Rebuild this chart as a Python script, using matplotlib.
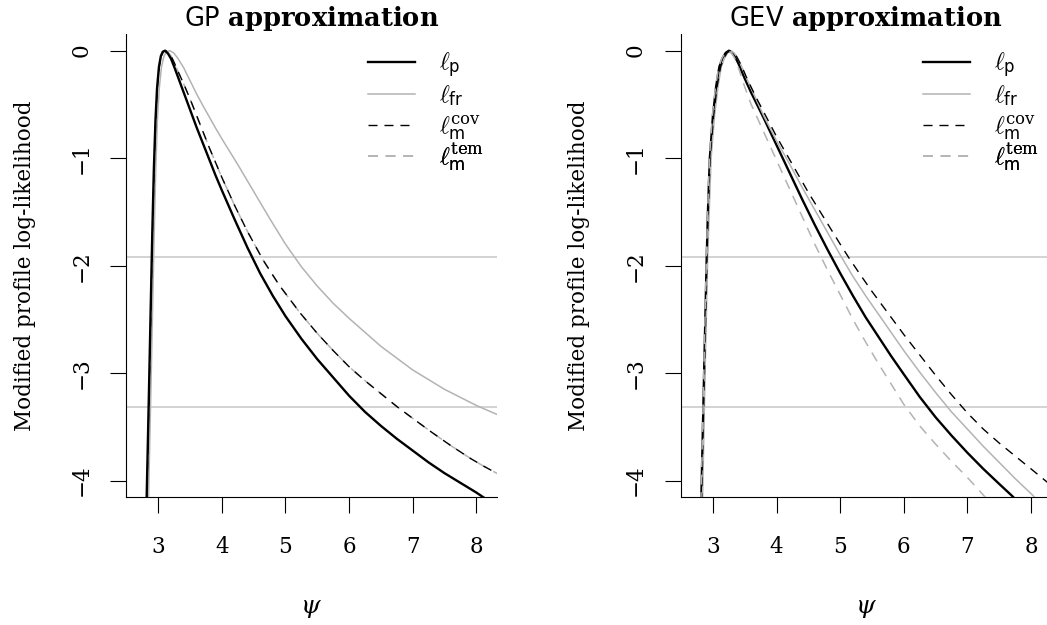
import numpy as np
import matplotlib
matplotlib.use("Agg")
import matplotlib.pyplot as plt
from matplotlib.lines import Line2D

plt.rcParams['font.family'] = ['DejaVu Serif']
plt.rcParams['mathtext.fontset'] = 'custom'
plt.rcParams['mathtext.rm'] = 'DejaVu Serif'
plt.rcParams['mathtext.it'] = 'DejaVu Serif:italic'
plt.rcParams['mathtext.bf'] = 'DejaVu Serif:bold'
plt.rcParams['mathtext.sf'] = 'DejaVu Sans'

# ---------------- data ----------------
conf_levels = [-1.9207, -3.3174]

# GP approximation panel
gp_p_psi = [2.815, 2.85, 2.88, 2.905, 2.93, 2.955, 2.98, 3.01, 3.04, 3.07, 3.105, 3.15, 3.2, 3.25,
            3.3, 3.4, 3.5, 3.6, 3.7, 3.8, 3.9, 4.0, 4.2, 4.4, 4.6, 4.8, 5.0, 5.25, 5.5, 5.75,
            6.0, 6.25, 6.5, 6.75, 7.0, 7.25, 7.5, 7.75, 8.0, 8.15]
gp_p_ll = [-4.2, -3.25, -2.4, -1.7, -1.1, -0.65, -0.35, -0.15, -0.05, -0.01, 0.0, -0.025, -0.075, -0.15,
           -0.23, -0.39, -0.55, -0.71, -0.86, -1.01, -1.16, -1.30, -1.57, -1.83, -2.07, -2.28, -2.47,
           -2.68, -2.87, -3.04, -3.21, -3.36, -3.49, -3.61, -3.72, -3.83, -3.93, -4.02, -4.11, -4.17]

gp_fr_psi = [2.845, 2.88, 2.91, 2.935, 2.96, 2.985, 3.015, 3.05, 3.09, 3.13, 3.18, 3.24, 3.3,
             3.4, 3.5, 3.6, 3.7, 3.8, 3.9, 4.0, 4.25, 4.5, 4.75, 5.0, 5.25, 5.5, 5.75, 6.0,
             6.5, 7.0, 7.5, 8.0, 8.35]
gp_fr_ll = [-4.2, -3.25, -2.4, -1.7, -1.1, -0.65, -0.35, -0.15, -0.05, -0.01, 0.0, -0.02, -0.065,
            -0.16, -0.28, -0.40, -0.51, -0.615, -0.72, -0.82, -1.06, -1.31, -1.56, -1.80, -2.01, -2.19,
            -2.35, -2.49, -2.75, -2.97, -3.15, -3.30, -3.39]

gp_cov_psi = [2.82, 2.855, 2.885, 2.91, 2.935, 2.96, 2.985, 3.015, 3.045, 3.08, 3.12, 3.16, 3.2, 3.25,
              3.3, 3.4, 3.5, 3.6, 3.7, 3.8, 3.9, 4.0, 4.2, 4.4, 4.65, 4.9, 5.23, 5.5, 5.75, 6.0,
              6.25, 6.5, 6.75, 7.0, 7.3, 7.59, 7.9, 8.1, 8.35]
gp_cov_ll = [-4.2, -3.25, -2.4, -1.7, -1.1, -0.65, -0.35, -0.15, -0.05, -0.01, 0.0, -0.02, -0.05, -0.11,
             -0.18, -0.31, -0.45, -0.60, -0.75, -0.90, -1.04, -1.18, -1.44, -1.68, -1.95, -2.18, -2.44,
             -2.63, -2.79, -2.94, -3.07, -3.19, -3.31, -3.42, -3.55, -3.67, -3.79, -3.86, -3.94]

gp_tem_psi = gp_cov_psi
gp_tem_ll = gp_cov_ll

# GEV approximation panel
gev_p_psi = [2.815, 2.86, 2.90, 2.92, 2.95, 3.0, 3.05, 3.1, 3.15, 3.2, 3.25, 3.3, 3.35, 3.4, 3.45,
             3.5, 3.6, 3.8, 4.0, 4.2, 4.4, 4.6, 4.8, 5.0, 5.2, 5.4, 5.6, 5.8, 6.0, 6.25, 6.5,
             6.75, 7.0, 7.25, 7.5, 7.7, 7.8]
gev_p_ll = [-4.2, -3.0, -1.95, -1.5, -1.0, -0.6, -0.33, -0.15, -0.07, -0.02, 0.0, -0.02, -0.06, -0.12,
            -0.19, -0.26, -0.39, -0.63, -0.88, -1.13, -1.38, -1.62, -1.85, -2.07, -2.28, -2.48, -2.66,
            -2.84, -3.01, -3.22, -3.41, -3.58, -3.74, -3.89, -4.03, -4.14, -4.2]

gev_fr_psi = [2.835, 2.875, 2.915, 2.94, 2.97, 3.025, 3.08, 3.13, 3.18, 3.23, 3.28, 3.33, 3.38, 3.43,
              3.48, 3.53, 3.63, 3.8, 4.0, 4.2, 4.4, 4.6, 4.8, 5.0, 5.2, 5.4, 5.6, 5.8, 6.0, 6.25,
              6.5, 6.75, 7.0, 7.25, 7.5, 7.75, 8.0, 8.1]
gev_fr_ll = [-4.2, -3.0, -1.95, -1.5, -1.0, -0.6, -0.33, -0.15, -0.07, -0.02, 0.0, -0.02, -0.06, -0.12,
             -0.19, -0.26, -0.39, -0.61, -0.84, -1.05, -1.27, -1.48, -1.69, -1.90, -2.10, -2.28, -2.45,
             -2.62, -2.79, -2.99, -3.18, -3.36, -3.52, -3.68, -3.83, -3.98, -4.12, -4.18]

gev_cov_psi = [2.82, 2.865, 2.905, 2.925, 2.955, 3.01, 3.065, 3.12, 3.17, 3.22, 3.27, 3.32, 3.37, 3.42,
               3.47, 3.52, 3.6, 3.7, 3.85, 4.0, 4.25, 4.5, 4.75, 5.0, 5.14, 5.3, 5.5, 5.75, 6.0,
               6.25, 6.5, 6.75, 7.0, 7.25, 7.5, 7.75, 8.0, 8.35]
gev_cov_ll = [-4.2, -3.0, -1.95, -1.5, -1.0, -0.6, -0.33, -0.15, -0.07, -0.02, 0.0, -0.02, -0.055, -0.11,
              -0.17, -0.24, -0.34, -0.46, -0.63, -0.80, -1.06, -1.32, -1.56, -1.80, -1.93, -2.07, -2.24,
              -2.44, -2.64, -2.83, -3.02, -3.20, -3.37, -3.52, -3.65, -3.77, -3.89, -4.06]

gev_tem_psi = [2.81, 2.855, 2.895, 2.915, 2.945, 2.99, 3.04, 3.09, 3.14, 3.19, 3.24, 3.29, 3.34, 3.39,
               3.44, 3.5, 3.6, 3.8, 4.0, 4.2, 4.4, 4.6, 4.8, 5.0, 5.2, 5.4, 5.6, 5.8, 6.0, 6.25,
               6.5, 6.75, 7.0, 7.2, 7.35]
gev_tem_ll = [-4.2, -3.0, -1.95, -1.5, -1.0, -0.6, -0.33, -0.15, -0.07, -0.02, 0.0, -0.02, -0.07, -0.14,
              -0.23, -0.34, -0.50, -0.76, -1.02, -1.28, -1.54, -1.80, -2.04, -2.27, -2.50, -2.71, -2.91,
              -3.10, -3.29, -3.49, -3.66, -3.82, -3.97, -4.10, -4.2]

x_ticks = [3, 4, 5, 6, 7, 8]
y_ticks = [0, -1, -2, -3, -4]
xlim = (2.492, 8.321)
ylim = (-4.149, 0.155)

titles = [r'$\mathsf{GP}$ $\mathbf{approximation}$', r'$\mathsf{GEV}$ $\mathbf{approximation}$']
labels = [r'$\ell_{\mathsf{p}}$', r'$\ell_{\mathsf{fr}}$',
          r'$\ell_{\mathsf{m}}^{\mathrm{cov}}$', r'$\ell_{\mathsf{m}}^{\mathrm{tem}}$']
ylabel = 'Modified profile log-likelihood'
xlabel = r'$\psi$'

panels = [
    (gp_p_psi, gp_p_ll, gp_fr_psi, gp_fr_ll, gp_cov_psi, gp_cov_ll, gp_tem_psi, gp_tem_ll),
    (gev_p_psi, gev_p_ll, gev_fr_psi, gev_fr_ll, gev_cov_psi, gev_cov_ll, gev_tem_psi, gev_tem_ll),
]

# ---------------- styles ----------------
W, H = 1047, 625
fig = plt.figure(figsize=(W / 100, H / 100), dpi=100)

GRAY = '#b3b3b3'
HGRAY = '#c8c8c8'
styles = [
    dict(color='black', lw=1.7, ls='-'),
    dict(color=GRAY, lw=1.1, ls='-'),
    dict(color='black', lw=1.0, ls=(0, (6.5, 5))),
    dict(color=GRAY, lw=1.1, ls=(0, (6.5, 5))),
]

ax_top_px, ax_bot_px = 34, 496.7
ax_w = (496.7 - 126) / W
ax_h = (ax_bot_px - ax_top_px) / H
ax_bottom = (H - ax_bot_px) / H
lefts = [126 / W, 680.7 / W]

# legend rows (pixel rows of the handles, converted to axes fraction)
row_px = [65.5, 95.5, 127.5, 157.5]
row_frac = [1 - (p - ax_top_px) / (ax_bot_px - ax_top_px) for p in row_px]

for i, data in enumerate(panels):
    ax = fig.add_axes([lefts[i], ax_bottom, ax_w, ax_h])
    for y in conf_levels:
        ax.axhline(y, color=HGRAY, lw=1.1, zorder=1)
    order = [3, 2, 1, 0] if i == 0 else [0, 1, 2, 3]
    for z, k in enumerate(order):
        ax.plot(data[2 * k], data[2 * k + 1], zorder=3 + z, **styles[k])
    ax.set_xlim(*xlim)
    ax.set_ylim(*ylim)
    ax.set_xticks(x_ticks)
    ax.set_yticks(y_ticks)
    ax.set_xticklabels([str(t) for t in x_ticks])
    ax.set_yticklabels([str(t).replace('-', '\u2212') for t in y_ticks])
    for s in ['top', 'right']:
        ax.spines[s].set_visible(False)
    for s in ['left', 'bottom']:
        ax.spines[s].set_linewidth(0.8)
    ax.tick_params(axis='both', direction='out', length=11.2, width=0.8, labelsize=15.5)
    ax.tick_params(axis='x', pad=17)
    ax.tick_params(axis='y', pad=13, labelrotation=90)
    for lab in ax.get_yticklabels():
        lab.set_va('center')
    ax.set_title(titles[i], fontsize=18.5, pad=6)
    ax.set_ylabel(ylabel, fontsize=15.5, labelpad=25)
    ax.set_xlabel(xlabel, fontsize=18, labelpad=28)
    for k in range(4):
        h = Line2D([], [], **styles[k])
        leg = ax.legend([h], [labels[k]], loc='center left', bbox_to_anchor=(0.653, row_frac[k]),
                        frameon=False, fontsize=17, handlelength=2.0, handletextpad=1.0,
                        borderpad=0, borderaxespad=0)
        ax.add_artist(leg)

fig.savefig('out.png', dpi=100)
